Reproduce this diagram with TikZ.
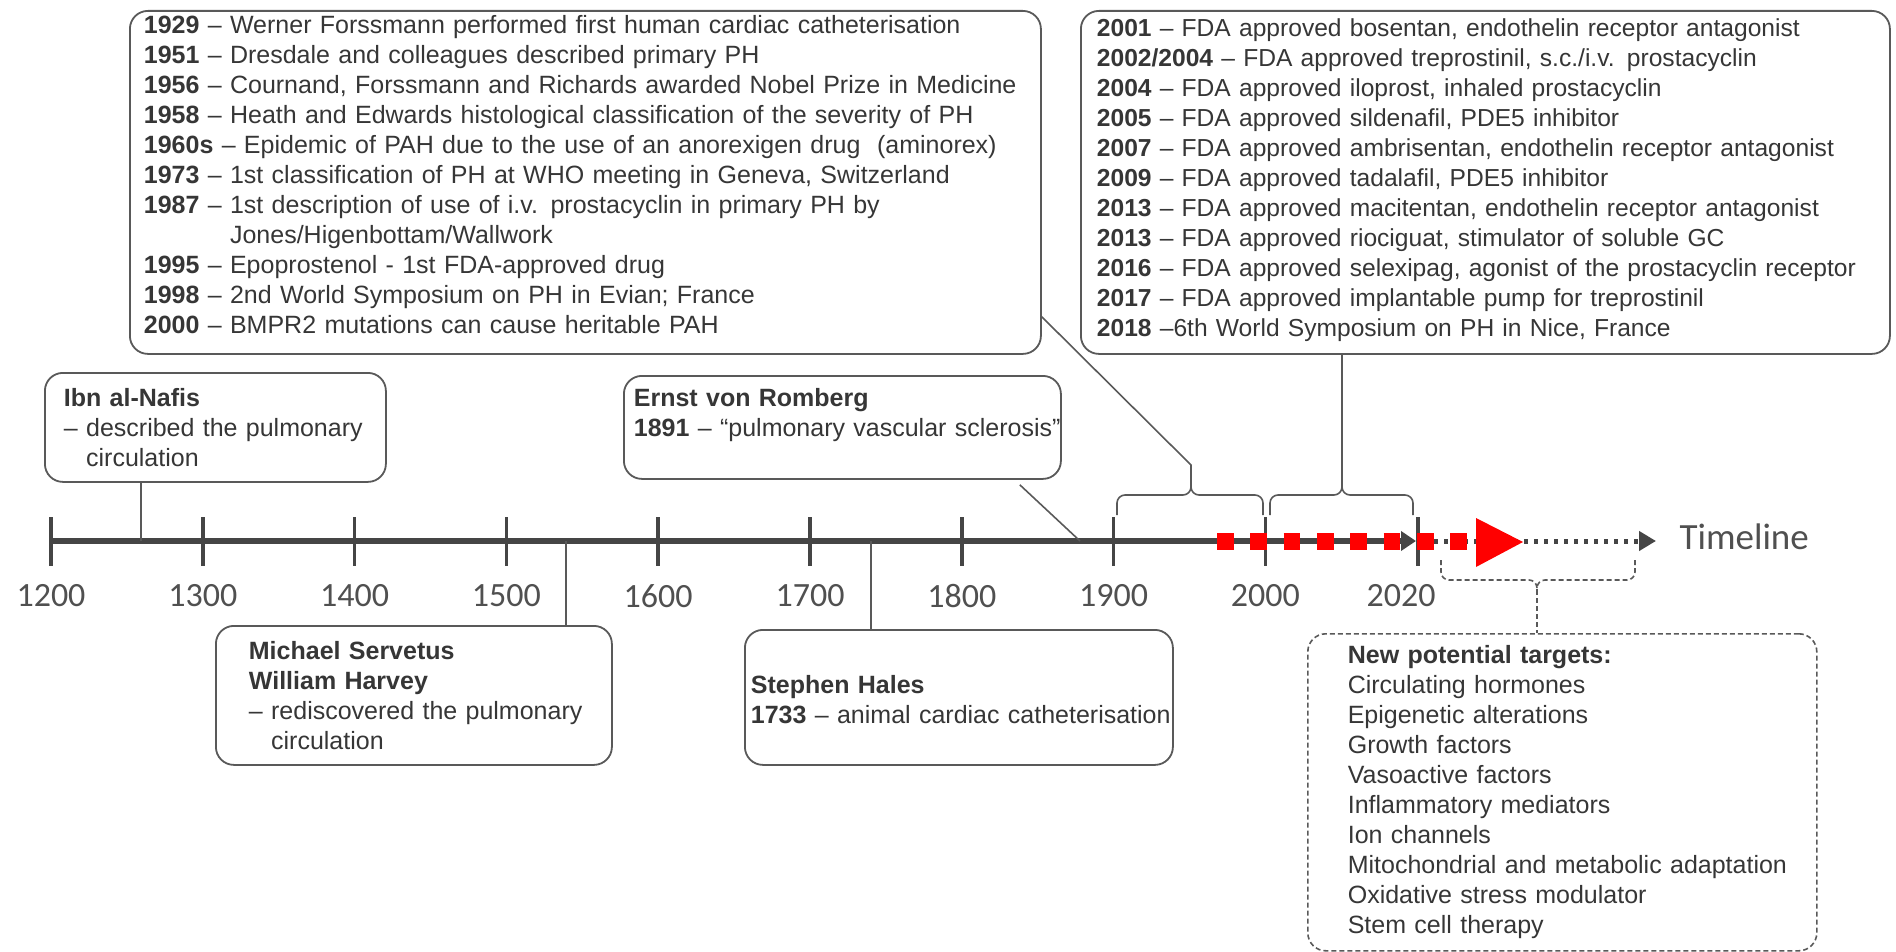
\documentclass[tikz,border=0pt]{standalone}
\usepackage{fontspec}
\setmainfont{Liberation Sans}
\newfontfamily\carlito{Carlito}
\usetikzlibrary{arrows.meta}
\definecolor{txt}{HTML}{363636}
\definecolor{boxc}{HTML}{595959}
\definecolor{axisc}{HTML}{454545}
\definecolor{lab}{HTML}{505050}
\definecolor{redc}{HTML}{FF0000}
\begin{document}
\begin{tikzpicture}[x=1pt,y=-1pt,
  tbox/.style={draw=boxc, line width=1.8pt, rounded corners=18pt, anchor=north west,
    align=left, inner xsep=0pt, inner ysep=0pt, text=txt, font=\fontsize{25}{30}\selectfont},
  lm/.style={execute at begin node={\leftskip=#1\relax}},
  conn/.style={draw=boxc, line width=1.6pt},
  dconn/.style={draw=boxc, line width=1.6pt, dash pattern=on 5pt off 3pt},
  tickmark/.style={draw=axisc, line width=3.5pt},
  ylab/.style={font=\carlito\fontsize{34}{34}\selectfont, text=lab, anchor=center},
]
\useasboundingbox (0,0) rectangle (1896,952);

% ---------- boxes ----------
\node[tbox, lm=14pt, text width=911pt, minimum height=343pt] (tl) at (129,10) {%
\textbf{1929} – Werner Forssmann performed first human cardiac catheterisation\\
\textbf{1951} – Dresdale and colleagues described primary PH\\
\textbf{1956} – Cournand, Forssmann and Richards awarded Nobel Prize in Medicine\\
\textbf{1958} – Heath and Edwards histological classification of the severity of PH\\
\textbf{1960s} – Epidemic of PAH due to the use of an anorexigen drug\ \ (aminorex)\\
\textbf{1973} – 1st classification of PH at WHO meeting in Geneva, Switzerland\\
\textbf{1987} – 1st description of use of i.v. prostacyclin in primary PH by\\
\phantom{\textbf{1987} – }Jones/Higenbottam/Wallwork\\
\textbf{1995} – Epoprostenol - 1st FDA-approved drug\\
\textbf{1998} – 2nd World Symposium on PH in Evian; France\\
\textbf{2000} – BMPR2 mutations can cause heritable PAH\rule[-16pt]{0pt}{0pt}};

\node[tbox, lm=16pt, text width=809pt, minimum height=343pt,
  font=\fontsize{24.6}{30}\selectfont] (tr) at (1080,10) {%
\textbf{2001} – FDA approved bosentan, endothelin receptor antagonist\\
\textbf{2002/2004} – FDA approved treprostinil, s.c./i.v. prostacyclin\\
\textbf{2004} – FDA approved iloprost, inhaled prostacyclin\\
\textbf{2005} – FDA approved sildenafil, PDE5 inhibitor\\
\textbf{2007} – FDA approved ambrisentan, endothelin receptor antagonist\\
\textbf{2009} – FDA approved tadalafil, PDE5 inhibitor\\
\textbf{2013} – FDA approved macitentan, endothelin receptor antagonist\\
\textbf{2013} – FDA approved riociguat, stimulator of soluble GC\\
\textbf{2016} – FDA approved selexipag, agonist of the prostacyclin receptor\\
\textbf{2017} – FDA approved implantable pump for treprostinil\\
\textbf{2018} –6th World Symposium on PH in Nice, France\rule[-10pt]{0pt}{0pt}};

\node[tbox, lm=19pt, text width=341pt, minimum height=109pt] (ibn) at (44,372) {%
\textbf{Ibn al-Nafis}\\
\mbox{– described the pulmonary}\\
\phantom{– }circulation};

\node[tbox, lm=10pt, text width=437pt, minimum height=103pt] (er) at (623,375) {%
\textbf{Ernst von Romberg}\\
\mbox{\textbf{1891} – “pulmonary vascular sclerosis”}\\
\mbox{}};

\node[tbox, lm=33pt, text width=396pt, minimum height=139pt] (sv) at (215,625) {%
\textbf{Michael Servetus}\\
\textbf{William Harvey}\\
\mbox{– rediscovered the pulmonary}\\
\phantom{– }circulation};

\node[tbox, lm=6pt, text width=428pt, minimum height=135pt] (sh) at (744,629) {%
\rule{0pt}{22pt}\textbf{Stephen Hales}\\
\mbox{\textbf{1733} – animal cardiac catheterisation}};

\node[tbox, dconn, lm=40pt, text width=509pt, minimum height=317pt, rounded corners=18pt] (nt) at (1307,633) {%
\textbf{New potential targets:}\\
Circulating hormones\\
Epigenetic alterations\\
Growth factors\\
Vasoactive factors\\
Inflammatory mediators\\
Ion channels\\
Mitochondrial and metabolic adaptation\\
Oxidative stress modulator\\
Stem cell therapy};

% ---------- axis ----------
\foreach \yr [count=\i from 0] in {1200,1300,1400,1500,1600,1700,1800,1900,2000} {
  \draw[tickmark] (51+151.8*\i,517) -- (51+151.8*\i,566);
  \node[ylab] (l\i) at (51+151.8*\i,596) {\yr};
}
\draw[tickmark] (1418,517) -- (1418,566);
\node[ylab] (l9) at (1401,596) {2020};
\coordinate (ax0) at (49,541);
\coordinate (ax1) at (1416,541);
\coordinate (dt0) at (1424,541);
\coordinate (dt1) at (1656,541);
\draw[draw=axisc, line width=6pt, -{Triangle[length=15pt,width=19pt]}] (ax0) -- (ax1);
\draw[draw=axisc, line width=5pt, dash pattern=on 4pt off 6pt, -{Triangle[length=17pt,width=19pt]}] (dt0) -- (dt1);
\node[font=\carlito\fontsize{37}{37}\selectfont, text=lab, anchor=west] (tlab) at (1676,537) {Timeline};

% red arrow
\coordinate (r0) at (1217,541);
\coordinate (r1) at (1474,541);
\draw[redc, line width=17pt, dash pattern=on 16.7pt off 16.6pt] (r0) -- (r1);
\fill[redc] (1476,518) -- (1523,542) -- (1476,567) -- cycle;

% ---------- connectors ----------
\coordinate (ibnA) at (141,541);
\draw[conn] (ibn.south -| ibnA) -- (ibnA);
\coordinate (svA) at (566,541);
\draw[conn] (svA) -- (svA |- sv.north);
\coordinate (shA) at (871,541);
\draw[conn] (shA) -- (shA |- sh.north);
\coordinate (erA) at (1080,541);
\draw[conn] ([xshift=-42pt,yshift=-5pt]er.south east) -- (erA);

% braces
\coordinate (b1t) at (1191,483);
\coordinate (b1k) at (1191,465);
\draw[conn, rounded corners=8pt] (1117,515) |- (1191,495) -- (b1t);
\draw[conn, rounded corners=8pt] (1263,515) |- (1191,495) -- (b1t);
\draw[conn] (b1t) -- (b1k) -- ([yshift=38pt]tl.south east);

\coordinate (b2t) at (1342,483);
\draw[conn, rounded corners=8pt] (1270,515) |- (1342,495) -- (b2t);
\draw[conn, rounded corners=8pt] (1413,515) |- (1342,495) -- (b2t);
\draw[conn] (b2t) -- (b2t |- tr.south);

\coordinate (b3t) at (1537,590);
\draw[dconn, rounded corners=8pt] (1441,560) |- (1537,580) -- (b3t);
\draw[dconn, rounded corners=8pt] (1635,560) |- (1537,580) -- (b3t);
\draw[dconn] (b3t) -- (b3t |- nt.north);
\end{tikzpicture}
\end{document}
